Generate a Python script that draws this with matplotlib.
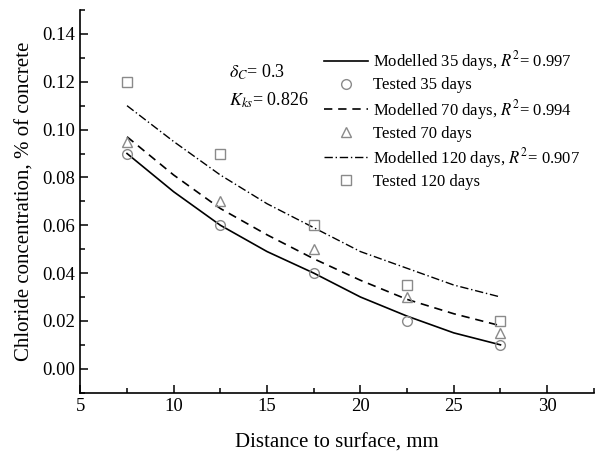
import matplotlib
matplotlib.use("Agg")
import matplotlib.pyplot as plt
from matplotlib.ticker import MultipleLocator

plt.rcParams['font.family'] = ['Liberation Serif', 'DejaVu Serif']
plt.rcParams['mathtext.fontset'] = 'stix'

# Tested data
x_test = [7.5, 12.5, 17.5, 22.5, 27.5]
t35 = [0.090, 0.060, 0.040, 0.020, 0.010]
t70 = [0.095, 0.070, 0.050, 0.030, 0.015]
t120 = [0.120, 0.090, 0.060, 0.035, 0.020]

# Modelled curves
x_model = [7.5, 10, 12.5, 15, 17.5, 20, 22.5, 25, 27.5]
m35 = [0.090, 0.074, 0.060, 0.049, 0.040, 0.030, 0.022, 0.015, 0.010]
m70 = [0.097, 0.081, 0.067, 0.056, 0.046, 0.037, 0.029, 0.023, 0.018]
m120 = [0.110, 0.095, 0.081, 0.069, 0.059, 0.049, 0.042, 0.035, 0.030]

labels = [r'Modelled 35 days, $R^2$= 0.997', 'Tested 35 days',
          r'Modelled 70 days, $R^2$= 0.994', 'Tested 70 days',
          r'Modelled 120 days, $R^2$= 0.907', 'Tested 120 days']

fig = plt.figure(figsize=(5.95, 4.55), dpi=100)
ax = fig.add_axes([0.135, 0.137, 0.863, 0.841])

gray = '#8a8a8a'
mk = dict(linestyle='none', markerfacecolor='none', markeredgecolor=gray,
          markersize=7, markeredgewidth=1.0)

ax.plot(x_model, m35, color='black', lw=1.2, linestyle='-', label=labels[0])
ax.plot(x_test, t35, marker='o', label=labels[1], **mk)
ax.plot(x_model, m70, color='black', lw=1.2, linestyle=(0, (5, 3.5)), label=labels[2])
ax.plot(x_test, t70, marker='^', label=labels[3], **mk)
ax.plot(x_model, m120, color='black', lw=1.0, linestyle=(0, (6, 2, 1, 2)), label=labels[4])
ax.plot(x_test, t120, marker='s', label=labels[5], **dict(mk, markersize=6.5))

ax.set_xlim(5, 32.5)
ax.set_ylim(-0.01, 0.15)
ax.xaxis.set_major_locator(MultipleLocator(5))
ax.xaxis.set_minor_locator(MultipleLocator(2.5))
ax.yaxis.set_major_locator(MultipleLocator(0.02))
ax.yaxis.set_minor_locator(MultipleLocator(0.01))
ax.yaxis.set_major_formatter(matplotlib.ticker.FormatStrFormatter('%.2f'))
ax.tick_params(which='major', direction='in', length=6, width=1.1, labelsize=13.5)
ax.tick_params(which='minor', direction='in', length=3.5, width=1.1)
ax.spines['top'].set_visible(False)
ax.spines['right'].set_visible(False)
ax.spines['left'].set_linewidth(1.2)
ax.spines['bottom'].set_linewidth(1.2)

ax.set_xlabel('Distance to surface, mm', fontsize=15, labelpad=14)
ax.set_ylabel('Chloride concentration, % of concrete', fontsize=15, labelpad=6)

ax.text(0.29, 0.838, r'$\delta_C$= 0.3', transform=ax.transAxes, fontsize=13, va='center')
ax.text(0.29, 0.765, r'$K_{ks}$= 0.826', transform=ax.transAxes, fontsize=13, va='center')

leg = ax.legend(loc='upper left', bbox_to_anchor=(0.462, 0.915), frameon=False,
                fontsize=12, handlelength=2.6, handletextpad=0.3,
                labelspacing=0.25, borderaxespad=0)

fig.savefig('out.png', dpi=100)
